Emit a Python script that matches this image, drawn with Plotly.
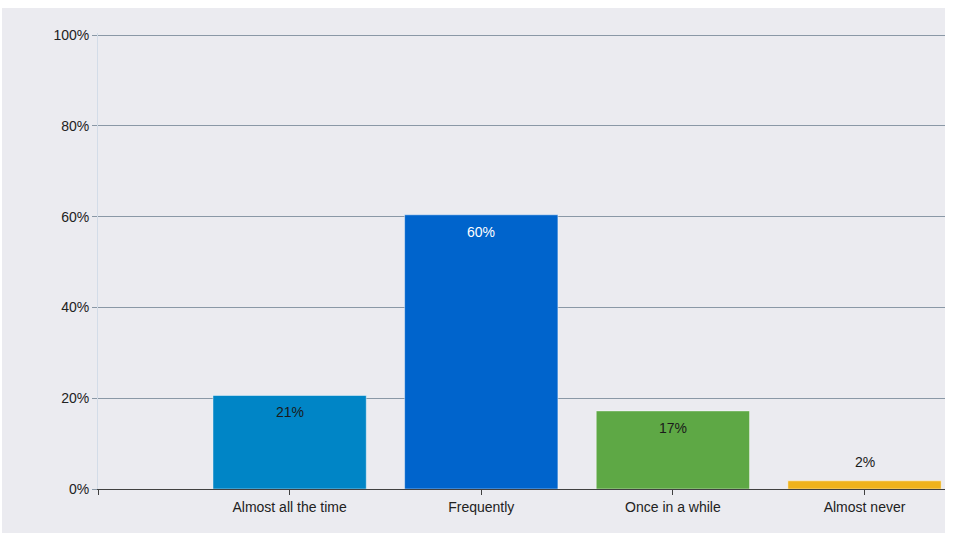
import plotly.graph_objects as go

categories = ["Almost all the time", "Frequently", "Once in a while", "Almost never"]
values = [20.6, 60.4, 17.2, 1.8]
labels = ["21%", "60%", "17%", "2%"]
bar_colors = ["#0085C6", "#0064CC", "#5EA845", "#EEB21C"]
label_colors = ["#1a1a1a", "#ffffff", "#1a1a1a", "#1a1a1a"]
label_inside = [True, True, True, False]
y_ticks = [0, 20, 40, 60, 80, 100]
y_ticktext = ["0%", "20%", "40%", "60%", "80%", "100%"]

FONT = "Liberation Sans"
FS = 14

xpos = list(range(len(categories)))

fig = go.Figure()
fig.add_trace(go.Bar(
    x=xpos, y=values, width=0.8,
    marker=dict(color=bar_colors, line=dict(color="rgba(255,255,255,0.45)", width=1)),
    hoverinfo="skip",
))

annotations = []
for xi, v, lab, col, ins in zip(xpos, values, labels, label_colors, label_inside):
    annotations.append(dict(
        x=xi, y=v, xref="x", yref="y", text=lab, showarrow=False,
        yanchor="top" if ins else "bottom",
        yshift=-7 if ins else 9,
        font=dict(family=FONT, size=FS, color=col),
    ))

fig.update_layout(
    width=955, height=535,
    margin=dict(l=98, r=10, t=33, b=46),
    paper_bgcolor="#FFFFFF",
    plot_bgcolor="#EBEBF0",
    showlegend=False,
    font=dict(family=FONT, size=FS, color="#222222"),
    annotations=annotations,
    shapes=[dict(type="rect", xref="paper", yref="paper", layer="below",
                 x0=-96 / 847, x1=1.0, y0=-44 / 456, y1=1 + 25 / 456,
                 fillcolor="#EBEBF0", line=dict(width=0))],
)
fig.update_xaxes(
    range=[-1, 3.42],
    tickmode="array", tickvals=[-1] + xpos, ticktext=[""] + categories,
    showgrid=False, zeroline=False,
    showline=True, linecolor="#404040", linewidth=1,
    ticks="outside", ticklen=5, tickcolor="#404040",
    tickfont=dict(family=FONT, size=FS, color="#222222"),
)
fig.update_yaxes(
    range=[0, 100.45],
    tickmode="array", tickvals=y_ticks, ticktext=y_ticktext,
    showgrid=True, gridcolor="#8A98A6", gridwidth=1,
    zeroline=False,
    showline=True, linecolor="#D3DCE8", linewidth=1,
    ticks="outside", ticklen=5, tickcolor="#8A98A6",
    tickfont=dict(family=FONT, size=FS, color="#222222"),
)

fig.write_html("out.html", config={"displayModeBar": False},
               post_script="document.body.style.margin='0';")
